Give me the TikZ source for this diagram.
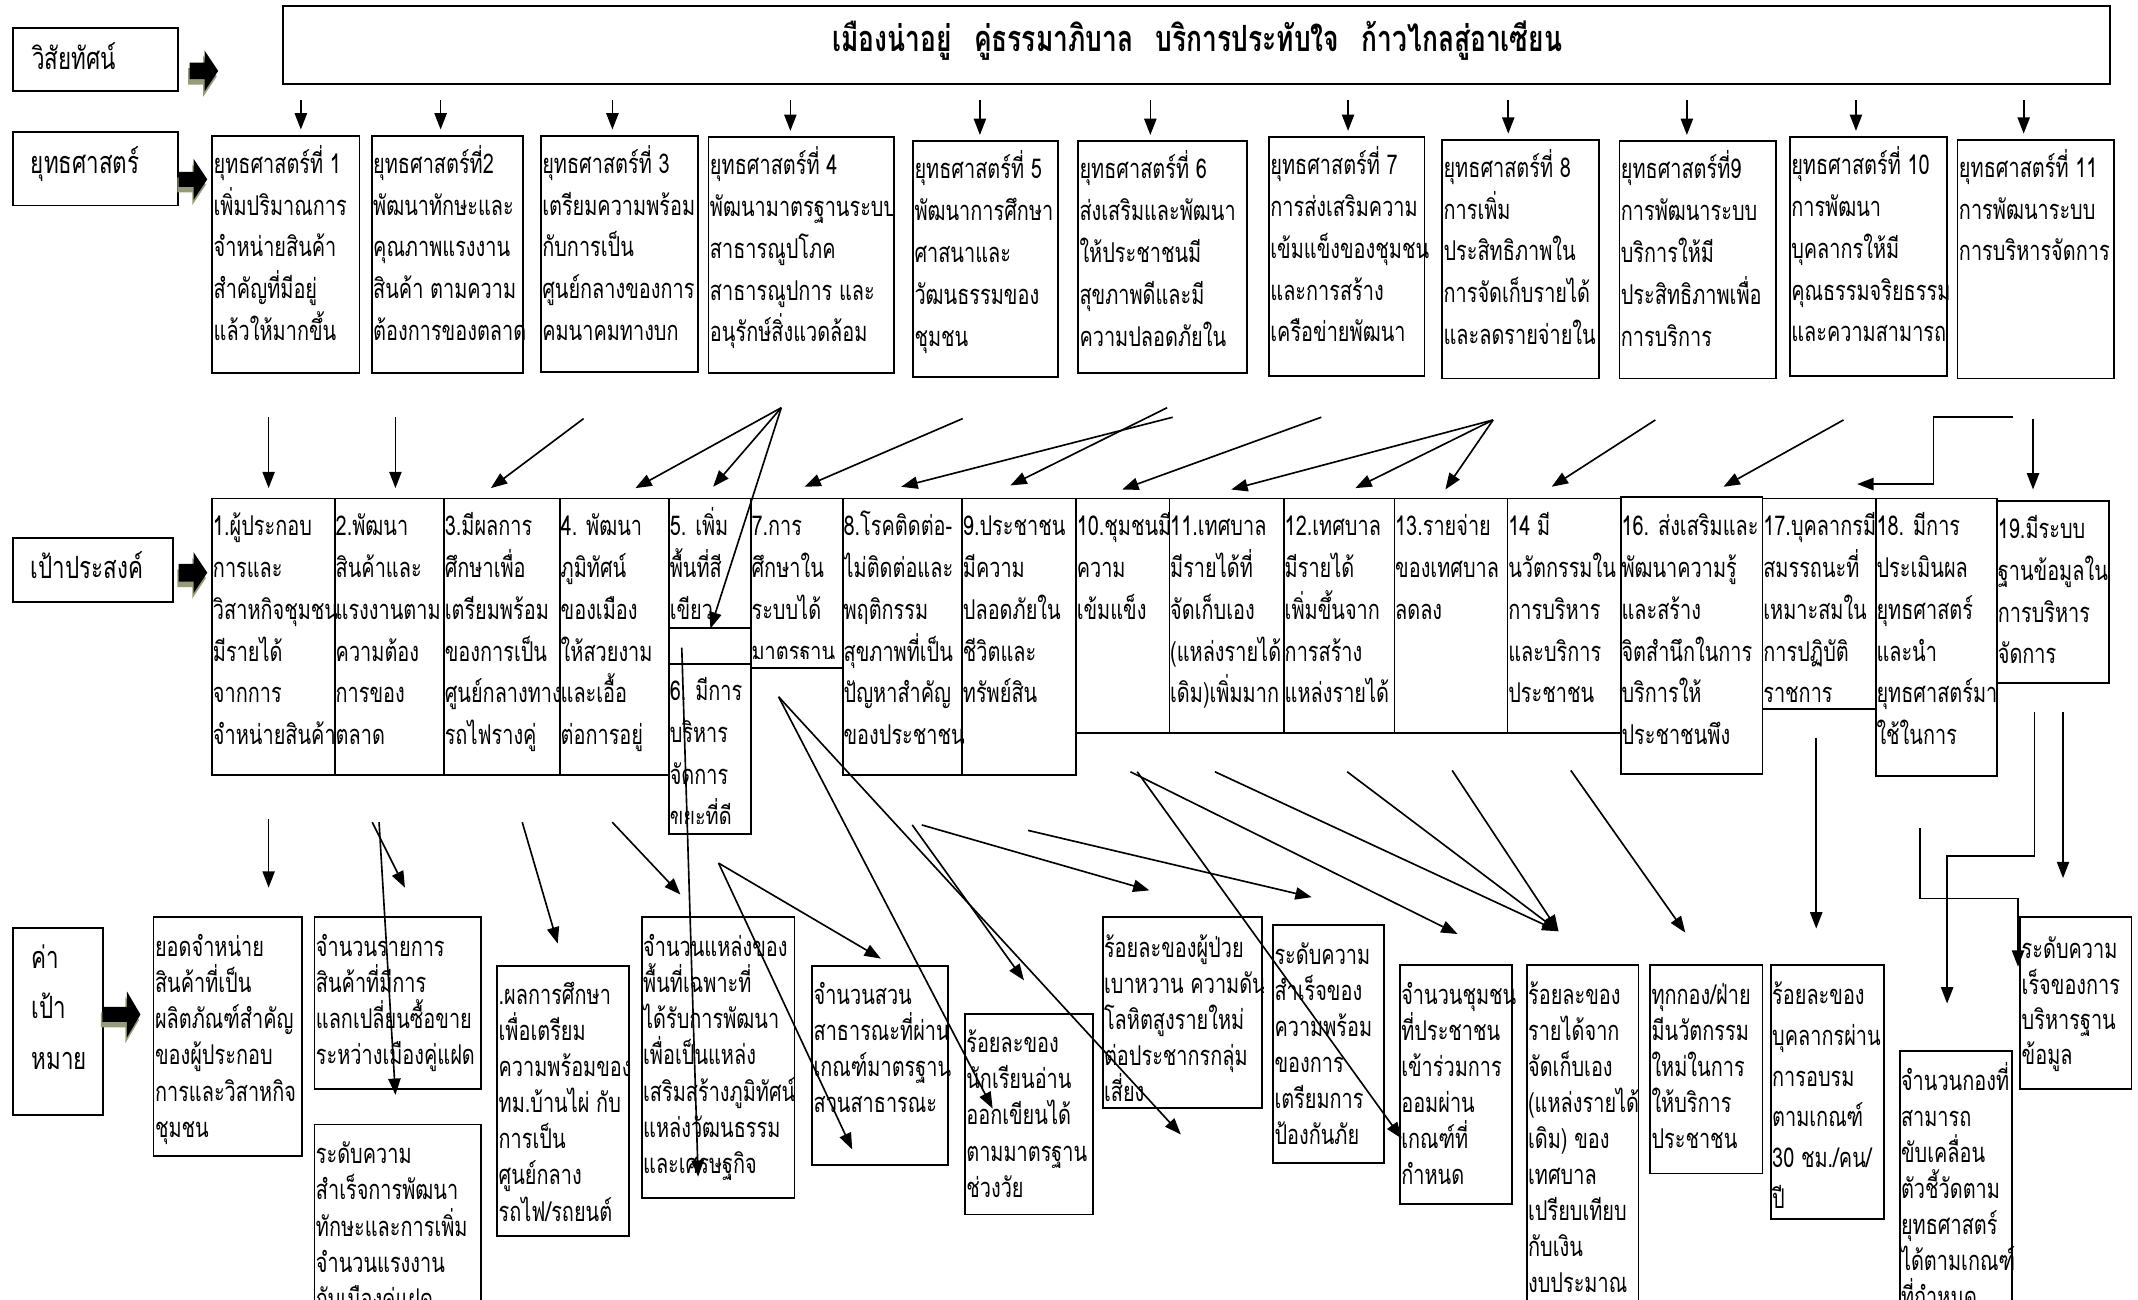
\documentclass[tikz,border=0pt]{standalone}
\usepackage{fontspec}
\usepackage{tikz}
\usetikzlibrary{arrows.meta,calc}
\newfontfamily\thai[Script=Thai,FakeStretch=0.73]{Loma}
\definecolor{shadowgreen}{RGB}{150,156,122}
\newcommand{\putlines}[5]{%
  \foreach \l [count=\i] in {#5}
    \node[txt] at ($(#1.north west)+(#2,{#3+#4*(\i-1)})$) {\l};}

\begin{document}
\begin{tikzpicture}[x=1pt,y=-1pt,
  box/.style={draw, line width=1.3pt, anchor=north west, inner sep=0pt},
  txt/.style={anchor=base west, inner sep=0pt, font=\thai\fontsize{20}{24}\selectfont},
  head/.style={txt, font=\thai\fontsize{22.5}{26}\selectfont},
  arr/.style={line width=1.2pt, -{Triangle[length=12pt,width=9pt]}}]
\useasboundingbox (0,0) rectangle (1568,953);

% boxes
\foreach \n/\x/\y/\w/\h in {vlab/9/20/121/46, slab/9/96/121/54, glab/9/394/117/47,
  tlab/9/680/66/137, vis/207/4/1340/57,
  s1/155/99/108/174, s2/272/99/111/174, s3/396/99/115/173, s4/519/100/136/173,
  s5/669/103/106/173, s6/790/103/124/170, s7/930/100/114/175, s8/1057/102/115/175,
  s9/1187/103/115/174, s10/1312/100/115/175, s11/1435/102/115/175,
  g1/155/365/90/203, g2/245/365/80/203, g3/325/365/85/203, g4/410/365/80/203,
  g5/490/365/60/95, gs/490/460/60/26.5, g6/490/486.5/60/124.5, g7/550/365/67.5/124,
  g8/617.5/365/87.5/203, g9/705/365/83.5/203, g10/788.5/365/68.5/172,
  g11/857/365/84/172, g12/941/365/81/172, g13/1022/365/83/172, g14/1105/365/83/172,
  g16/1188/364/104/203, g17/1292/365/83/154.5, g18/1375/365/89/203.5, g19/1464/367/82/133,
  k1/112/672/109/175, k2/230/672/122/126, k3/230/824/122/200, k4/364/708/96.5/198,
  k5/470/672/112/206, k6/595/708/99.5/146, k7/707/743/94/147, k8/808/672/117/140,
  k9/933/678/81.5/174.5, k10/1026/707/82/175.5, k11/1119/707/82/300,
  k12/1209.5/707/82.5/153, k13/1298/707/83/186.5, k14/1392.5/770/82.5/250,
  k15/1481/672/81.5/126}
  \node[box, minimum width=\w, minimum height=\h] (\n) at (\x,\y) {};

% row labels
\node[head] at ($(vlab.north west)+(14.5,31)$) {วิสัยทัศน์};
\node[head] at ($(slab.north west)+(13.5,31)$) {ยุทธศาสตร์};
\node[head] at ($(glab.north west)+(13.5,30)$) {เป้าประสงค์};
\foreach \l [count=\i] in {ค่า,เป้า,หมาย}
  \node[head] at ($(tlab.north west)+(14,{30+37*(\i-1)})$) {\l};
\node[txt, anchor=base, font=\thai\bfseries\fontsize{26.5}{30}\selectfont] (vtext) at (878,38)
  {เมืองน่าอยู่\hspace{10pt} คู่ธรรมาภิบาล\hspace{10pt} บริการประทับใจ\hspace{10pt} ก้าวไกลสู่อาเซียน};

% block arrows
\foreach \xa/\xb/\xc/\yc/\hs/\hh in {139/150/160/52/6/15, 131/142/152/131.5/5.5/15,
  131/142/152/420/6.5/15, 75/93/103/744/5.5/17}
{
  \fill[shadowgreen, shift={(-1,4)}] (\xa,\yc-\hs) -- (\xb,\yc-\hs) -- (\xb,\yc-\hh)
    -- (\xc,\yc) -- (\xb,\yc+\hh) -- (\xb,\yc+\hs) -- (\xa,\yc+\hs) -- cycle;
  \fill (\xa,\yc-\hs) -- (\xb,\yc-\hs) -- (\xb,\yc-\hh)
    -- (\xc,\yc) -- (\xb,\yc+\hh) -- (\xb,\yc+\hs) -- (\xa,\yc+\hs) -- cycle;
}

% strategies
\putlines{s1}{1.5}{28}{30.7}{ยุทธศาสตร์ที่  1,เพิ่มปริมาณการ,จำหน่ายสินค้า,สำคัญที่มีอยู่,แล้วให้มากขึ้น}
\putlines{s2}{1.5}{28}{30.7}{ยุทธศาสตร์ที่2,พัฒนาทักษะและ,คุณภาพแรงงาน,สินค้า ตามความ,ต้องการของตลาด}
\putlines{s3}{1.5}{28}{30.7}{ยุทธศาสตร์ที่ 3,เตรียมความพร้อม,กับการเป็น,ศูนย์กลางของการ,คมนาคมทางบก}
\putlines{s4}{1.5}{28}{30.7}{ยุทธศาสตร์ที่ 4,พัฒนามาตรฐานระบบ,สาธารณูปโภค,สาธารณูปการ  และ,อนุรักษ์สิ่งแวดล้อม}
\putlines{s5}{1.5}{28}{30.7}{ยุทธศาสตร์ที่ 5,พัฒนาการศึกษา,ศาสนาและ,วัฒนธรรมของ,ชุมชน}
\putlines{s6}{1.5}{28}{30.7}{ยุทธศาสตร์ที่ 6,ส่งเสริมและพัฒนา,ให้ประชาชนมี,สุขภาพดีและมี,ความปลอดภัยใน}
\putlines{s7}{1.5}{28}{30.7}{ยุทธศาสตร์ที่ 7,การส่งเสริมความ,เข้มแข็งของชุมชน,และการสร้าง,เครือข่ายพัฒนา}
\putlines{s8}{1.5}{28}{30.7}{ยุทธศาสตร์ที่ 8,การเพิ่ม,ประสิทธิภาพใน,การจัดเก็บรายได้,และลดรายจ่ายใน}
\putlines{s9}{1.5}{28}{30.7}{ยุทธศาสตร์ที่9,การพัฒนาระบบ,บริการให้มี,ประสิทธิภาพเพื่อ,การบริการ}
\putlines{s10}{1.5}{28}{30.7}{ยุทธศาสตร์ที่ 10,การพัฒนา,บุคลากรให้มี,คุณธรรมจริยธรรม,และความสามารถ}
\putlines{s11}{1.5}{28}{30.7}{ยุทธศาสตร์ที่ 11,การพัฒนาระบบ,การบริหารจัดการ}

% goals
\putlines{g1}{1}{28}{30.6}{1.ผู้ประกอบ,การและ,วิสาหกิจชุมชน,มีรายได้,จากการ,จำหน่ายสินค้า}
\putlines{g2}{1}{28}{30.6}{2.พัฒนา,สินค้าและ,แรงงานตาม,ความต้อง,การของ,ตลาด}
\putlines{g3}{1}{28}{30.6}{3.มีผลการ,ศึกษาเพื่อ,เตรียมพร้อม,ของการเป็น,ศูนย์กลางทาง,รถไฟรางคู่}
\putlines{g4}{1}{28}{30.6}{4. พัฒนา,ภูมิทัศน์,ของเมือง,ให้สวยงาม,และเอื้อ,ต่อการอยู่}
\begin{scope}
\clip (g5.north west) rectangle ([yshift=7pt]g5.south east);
\putlines{g5}{1}{28}{30.6}{5. เพิ่ม,พื้นที่สี,เขียว}
\end{scope}
\begin{scope}
\clip (g6.north west) rectangle ([yshift=8pt]g6.south east);
\putlines{g6}{1}{27.5}{30.6}{6. มีการ,บริหาร,จัดการ,ขยะที่ดี}
\end{scope}
\begin{scope}
\clip (g7.north west) rectangle ([yshift=7pt]g7.south east);
\putlines{g7}{1}{28}{30.6}{7.การ,ศึกษาใน,ระบบได้,มาตรฐาน}
\end{scope}
\putlines{g8}{1}{28}{30.6}{8.โรคติดต่อ-,ไม่ติดต่อและ,พฤติกรรม,สุขภาพที่เป็น,ปัญหาสำคัญ,ของประชาชน}
\putlines{g9}{1}{28}{30.6}{9.ประชาชน,มีความ,ปลอดภัยใน,ชีวิตและ,ทรัพย์สิน}
\putlines{g10}{1}{28}{30.6}{10.ชุมชนมี,ความ,เข้มแข็ง}
\putlines{g11}{1}{28}{30.6}{11.เทศบาล,มีรายได้ที่,จัดเก็บเอง,{(แหล่งรายได้},{เดิม)เพิ่มมาก}}
\putlines{g12}{1}{28}{30.6}{12.เทศบาล,มีรายได้,เพิ่มขึ้นจาก,การสร้าง,แหล่งรายได้}
\putlines{g13}{1}{28}{30.6}{13.รายจ่าย,ของเทศบาล,ลดลง}
\putlines{g14}{1}{28}{30.6}{14 มี,นวัตกรรมใน,การบริหาร,และบริการ,ประชาชน}
\putlines{g16}{1}{29}{30.6}{16. ส่งเสริมและ,พัฒนาความรู้,และสร้าง,จิตสำนึกในการ,บริการให้,ประชาชนพึง}
\begin{scope}
\clip (g17.north west) rectangle ([yshift=6pt]g17.south east);
\putlines{g17}{1}{28}{30.6}{17.บุคลากรมี,สมรรถนะที่,เหมาะสมใน,การปฏิบัติ,ราชการ}
\end{scope}
\putlines{g18}{1}{28}{30.6}{18. มีการ,ประเมินผล,ยุทธศาสตร์,และนำ,ยุทธศาสตร์มา,ใช้ในการ}
\putlines{g19}{1}{28}{30.6}{19.มีระบบ,ฐานข้อมูลใน,การบริหาร,จัดการ}

% targets
\putlines{k1}{1.5}{29.5}{26.5}{ยอดจำหน่าย,สินค้าที่เป็น,ผลิตภัณฑ์สำคัญ,ของผู้ประกอบ,การและวิสาหกิจ,ชุมชน}
\putlines{k2}{1.5}{29.5}{26.5}{จำนวนรายการ,สินค้าที่มีการ,แลกเปลี่ยนซื้อขาย,ระหว่างเมืองคู่แฝด}
\putlines{k3}{1.5}{29.5}{26.5}{ระดับความ,สำเร็จการพัฒนา,ทักษะและการเพิ่ม,จำนวนแรงงาน,กับเมืองคู่แฝด}
\putlines{k4}{1.5}{28.5}{26.5}{.ผลการศึกษา,เพื่อเตรียม,ความพร้อมของ,ทม.บ้านไผ่ กับ,การเป็น,ศูนย์กลาง,รถไฟ/รถยนต์}
\putlines{k5}{1.5}{29.5}{26.5}{จำนวนแหล่งของ,พื้นที่เฉพาะที่,ได้รับการพัฒนา,เพื่อเป็นแหล่ง,เสริมสร้างภูมิทัศน์,แหล่งวัฒนธรรม,และเศรษฐกิจ}
\putlines{k6}{1.5}{28.5}{26.5}{จำนวนสวน,สาธารณะที่ผ่าน,เกณฑ์มาตรฐาน,สวนสาธารณะ}
\putlines{k7}{1.5}{29}{26.5}{ร้อยละของ,นักเรียนอ่าน,ออกเขียนได้,ตามมาตรฐาน,ช่วงวัย}
\begin{scope}
\clip (k8.north west) rectangle ([yshift=3pt]k8.south east);
\putlines{k8}{1.5}{30}{26.5}{ร้อยละของผู้ป่วย,เบาหวาน ความดัน,โลหิตสูงรายใหม่,ต่อประชากรกลุ่ม,เสี่ยง}
\end{scope}
\putlines{k9}{1.5}{29}{26.5}{ระดับความ,สำเร็จของ,ความพร้อม,ของการ,เตรียมการ,ป้องกันภัย}
\putlines{k10}{1.5}{29.5}{26.5}{จำนวนชุมชน,ที่ประชาชน,เข้าร่วมการ,ออมผ่าน,เกณฑ์ที่,กำหนด}
\putlines{k11}{1.5}{29.5}{26.4}{ร้อยละของ,รายได้จาก,จัดเก็บเอง,{(แหล่งรายได้},{เดิม) ของ},เทศบาล,เปรียบเทียบ,กับเงิน,งบประมาณ}
\putlines{k12}{1.5}{29.5}{26.5}{ทุกกอง/ฝ่าย,มีนวัตกรรม,ใหม่ในการ,ให้บริการ,ประชาชน}
\putlines{k13}{1.5}{29.5}{30}{ร้อยละของ,บุคลากรผ่าน,การอบรม,ตามเกณฑ์,30 ชม./คน/,ปี}
\putlines{k14}{1.5}{30}{26.4}{จำนวนกองที่,สามารถ,ขับเคลื่อน,ตัวชี้วัดตาม,ยุทธศาสตร์,ได้ตามเกณฑ์,ที่กำหนด}
\putlines{k15}{1.5}{31}{26}{ระดับความ,เร็จของการ,บริหารฐาน,ข้อมูล}

% vision to strategies
\foreach \n/\dx in {s1/11,s2/-5,s3/-5,s4/-8,s5/-4,s6/-9,s7/1,s8/-9,s9/-8,s10/-9,s11/-9}
  \draw[arr, shorten <=11pt, shorten >=4pt] ([xshift=\dx]vis.south -| \n.north) -- ([xshift=\dx]\n.north);

% strategies to goals
\foreach \n/\x/\y in {r1/197/306, r2/290/306, r3/428/307, r4/573/299, r5/706/307,
  r6/856/299, r7/860/306, r8/969/306, r9/1095/308, r10/1214/308, r11/1352/308,
  r12/1476/306, r13/1491/307,
  q1/197/358, q2/290/358, q3/360/358, q4/466/358, q5/523/357, q6/521/461,
  q7/590/357, q8/741/356, q9/661/357, q10/823/359, q11/903/359, q12/994/358,
  q13/1060/359, q14/1138/357, q16/1264/357, q17/1362/355, q19/1491/359}
  \coordinate (\n) at (\x,\y);
\foreach \from/\to in {r1/q1,r2/q2,r3/q3,r4/q4,r4/q5,r4/q6,r5/q7,r6/q8,r7/q9,
  r8/q10,r9/q11,r9/q12,r9/q13,r10/q14,r11/q16,r13/q19}
  \draw[arr] (\from) -- (\to);
\draw[arr] (r12) -- ++(-58,0) |- (q17);

% goals to targets
\foreach \n/\x/\y in {t1/197/601, t2/273/603, t3/278/603, t4/383/603, t5/449/603,
  t6/500/475, t7/527/633, t8/571/511, t9/669/605, t10/676/605, t11/754/609,
  t12/829/566, t13/834/566, t14/891/566, t15/988/566, t16/1065/565, t17/1152/565,
  t18/1332/541, t19/1492/522, t20/1513/522, t21/1408/607,
  v1/197/651, v2/297/651, v3/290/803, v4/409/692, v5/499/656, v6/512/863,
  v7/646/703, v8/625/843, v9/728/813, v10/866/832, v11/751/719, v12/843/653,
  v13/962/658, v14/1069/685, v15/1028/835, v16/1143/683, v17/1236/684,
  v18/1332/681, v19/1428/736, v20/1513/644, v21/1480/709}
  \coordinate (\n) at (\x,\y);
\foreach \from/\to in {t1/v1,t2/v2,t3/v3,t4/v4,t5/v5,t6/v6,t7/v7,t7/v8,t8/v9,
  t8/v10,t9/v11,t10/v12,t11/v13,t12/v14,t13/v15,t14/v16,t15/v16,t16/v16,
  t17/v17,t18/v18,t20/v20}
  \draw[arr] (\from) -- (\to);
\draw[arr] (t19) -- ++(0,106) -| (v19);
\draw[arr] (t21) -- ++(0,52) -| (v21);
\end{tikzpicture}
\end{document}
